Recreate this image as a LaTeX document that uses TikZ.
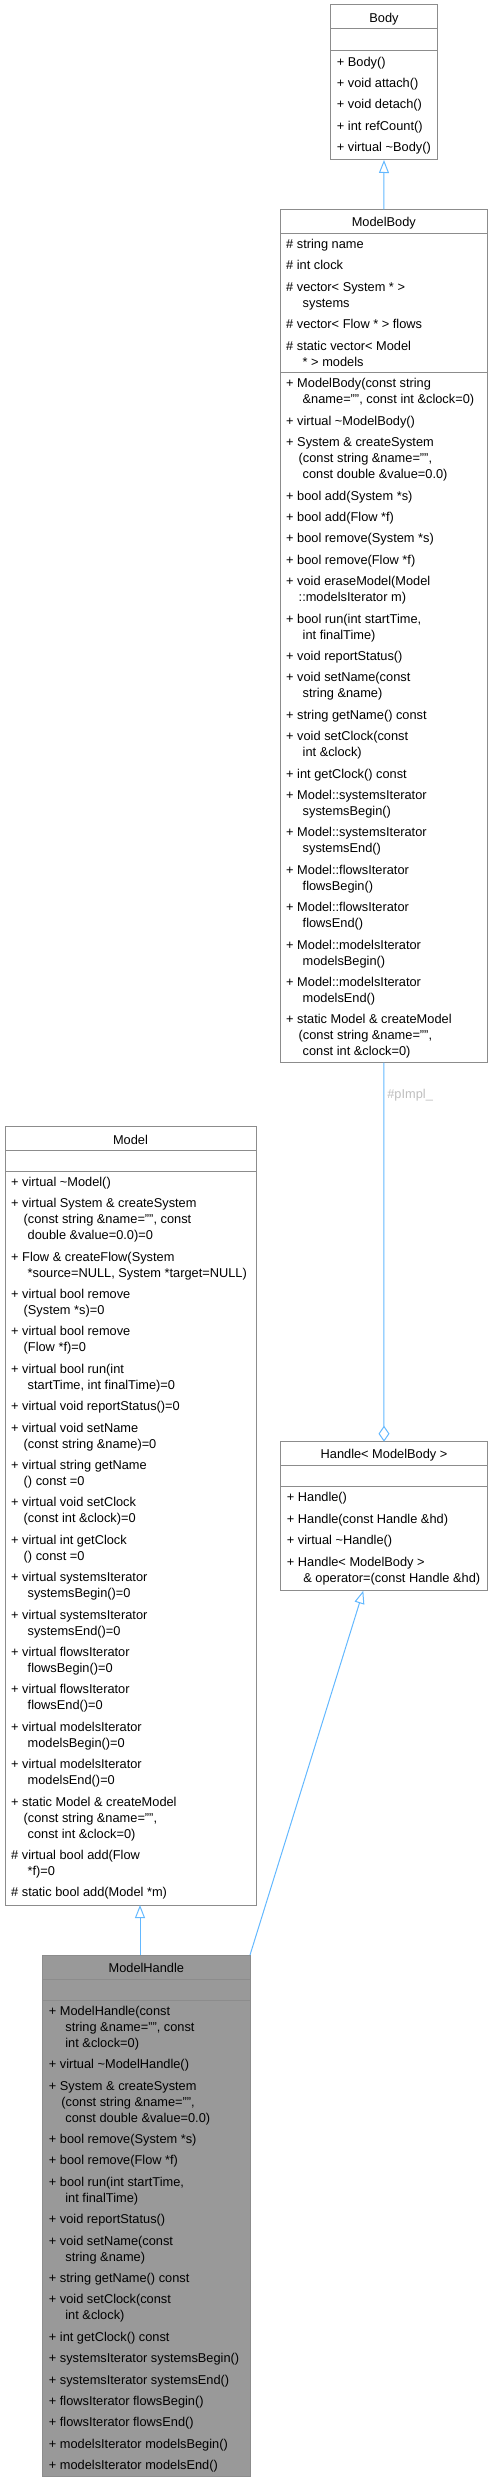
\documentclass[tikz,border=0pt]{standalone}
\usepackage{fontspec}
\setmainfont{Liberation Sans}
\usetikzlibrary{positioning,arrows.meta}
\definecolor{boxgray}{HTML}{8C8C8C}
\definecolor{edgeblue}{HTML}{63B8FF}
\definecolor{shade}{HTML}{999999}
\definecolor{lblgray}{HTML}{BEBEBE}
\newcommand{\wa}{\hspace*{12.5pt}}
\newcommand{\wb}{\hspace*{16.5pt}}
\newcommand{\nextm}{\\[5.4pt]}

\begin{document}
\begin{tikzpicture}[x=1pt, y=-1pt,
    font=\fontsize{12.8}{16}\selectfont,
    clspart/.style={draw=boxgray, fill=white, line width=1pt, inner sep=0pt, outer sep=0pt, minimum width=#1},
    clsname/.style={clspart=#1, minimum height=24pt, text height=11.2pt, text depth=0pt, anchor=north west},
    memtext/.style={anchor=north west, align=left, inner sep=0pt},
    isa/.style={draw=edgeblue, line width=1pt, -{Triangle[open, length=13pt, width=10pt]}},
    aggr/.style={draw=edgeblue, line width=1pt, -{Diamond[open, length=16pt, width=11pt]}},
    lbl/.style={text=lblgray, inner sep=3pt}]
\useasboundingbox (0,0) rectangle (493,2483);

% Body
\node[clsname=106.6pt] (bodyt) at (330.7,5) {Body};
\node[clspart=106.6pt, minimum height=22pt, below=0pt of bodyt] (bodya) {};
\node[clspart=106.6pt, minimum height=109pt, below=0pt of bodya] (bodym) {};
\node[memtext] (bodytxt) at ([xshift=6pt, yshift=-5.7pt]bodym.north west)
  {+ Body()\nextm
   + void attach()\nextm
   + void detach()\nextm
   + int refCount()\nextm
   + virtual \textasciitilde Body()};

% ModelBody
\node[clsname=207.7pt] (mbodyt) at (280,209.3) {ModelBody};
\node[clspart=207.7pt, minimum height=138.7pt, below=0pt of mbodyt] (mbodya) {};
\node[clspart=207.7pt, minimum height=690.7pt, below=0pt of mbodya] (mbodym) {};
\node[memtext] (mbodyatxt) at ([xshift=6pt, yshift=-5.7pt]mbodya.north west)
  {\# string name\nextm
   \# int clock\nextm
   \# vector< System * >\\\wb systems\nextm
   \# vector< Flow * > flows\nextm
   \# static vector< Model\\\wb * > models};
\node[memtext] (mbodytxt) at ([xshift=6pt, yshift=-6.5pt]mbodym.north west)
  {+ ModelBody(const string\\\wb \&name="", const int \&clock=0)\nextm
   + virtual \textasciitilde ModelBody()\nextm
   + System \& createSystem\\\wa (const string \&name="",\\\wb const double \&value=0.0)\nextm
   + bool add(System *s)\nextm
   + bool add(Flow *f)\nextm
   + bool remove(System *s)\nextm
   + bool remove(Flow *f)\nextm
   + void eraseModel(Model\\\wa ::modelsIterator m)\nextm
   + bool run(int startTime,\\\wb int finalTime)\nextm
   + void reportStatus()\nextm
   + void setName(const\\\wb string \&name)\nextm
   + string getName() const\nextm
   + void setClock(const\\\wb int \&clock)\nextm
   + int getClock() const\nextm
   + Model::systemsIterator\\\wb systemsBegin()\nextm
   + Model::systemsIterator\\\wb systemsEnd()\nextm
   + Model::flowsIterator\\\wb flowsBegin()\nextm
   + Model::flowsIterator\\\wb flowsEnd()\nextm
   + Model::modelsIterator\\\wb modelsBegin()\nextm
   + Model::modelsIterator\\\wb modelsEnd()\nextm
   + static Model \& createModel\\\wa (const string \&name="",\\\wb const int \&clock=0)};

% Model
\node[clsname=251pt] (modelt) at (5,1126.7) {Model};
\node[clspart=251pt, minimum height=21pt, below=0pt of modelt] (modela) {};
\node[clspart=251pt, minimum height=733.3pt, below=0pt of modela] (modelm) {};
\node[memtext] (modeltxt) at ([xshift=6pt, yshift=-5.2pt]modelm.north west)
  {+ virtual \textasciitilde Model()\nextm
   + virtual System \& createSystem\\\wa (const string \&name="", const\\\wb double \&value=0.0)=0\nextm
   + Flow \& createFlow(System\\\wb *source=NULL, System *target=NULL)\nextm
   + virtual bool remove\\\wa (System *s)=0\nextm
   + virtual bool remove\\\wa (Flow *f)=0\nextm
   + virtual bool run(int\\\wb startTime, int finalTime)=0\nextm
   + virtual void reportStatus()=0\nextm
   + virtual void setName\\\wa (const string \&name)=0\nextm
   + virtual string getName\\\wa () const =0\nextm
   + virtual void setClock\\\wa (const int \&clock)=0\nextm
   + virtual int getClock\\\wa () const =0\nextm
   + virtual systemsIterator\\\wb systemsBegin()=0\nextm
   + virtual systemsIterator\\\wb systemsEnd()=0\nextm
   + virtual flowsIterator\\\wb flowsBegin()=0\nextm
   + virtual flowsIterator\\\wb flowsEnd()=0\nextm
   + virtual modelsIterator\\\wb modelsBegin()=0\nextm
   + virtual modelsIterator\\\wb modelsEnd()=0\nextm
   + static Model \& createModel\\\wa (const string \&name="",\\\wb const int \&clock=0)\nextm
   \# virtual bool add(Flow\\\wb *f)=0\nextm
   \# static bool add(Model *m)};

% Handle< ModelBody >
\node[clsname=206.6pt, minimum height=23.3pt] (handlet) at (280.7,1441.7) {Handle< ModelBody >};
\node[clspart=206.6pt, minimum height=21.7pt, below=0pt of handlet] (handlea) {};
\node[clspart=206.6pt, minimum height=104pt, below=0pt of handlea] (handlem) {};
\node[memtext] (handletxt) at ([xshift=6pt, yshift=-5.7pt]handlem.north west)
  {+ Handle()\nextm
   + Handle(const Handle \&hd)\nextm
   + virtual \textasciitilde Handle()\nextm
   + Handle< ModelBody >\\\wb \& operator=(const Handle \&hd)};

% ModelHandle
\node[clsname=207.3pt, fill=shade] (mhandlet) at (42.7,1955) {ModelHandle};
\node[clspart=207.3pt, fill=shade, minimum height=21pt, below=0pt of mhandlet] (mhandlea) {};
\node[clspart=207.3pt, fill=shade, minimum height=476.7pt, below=0pt of mhandlea] (mhandlem) {};
\node[memtext] (mhandletxt) at ([xshift=6pt, yshift=-5.7pt]mhandlem.north west)
  {+ ModelHandle(const\\\wb string \&name="", const\\\wb int \&clock=0)\nextm
   + virtual \textasciitilde ModelHandle()\nextm
   + System \& createSystem\\\wa (const string \&name="",\\\wb const double \&value=0.0)\nextm
   + bool remove(System *s)\nextm
   + bool remove(Flow *f)\nextm
   + bool run(int startTime,\\\wb int finalTime)\nextm
   + void reportStatus()\nextm
   + void setName(const\\\wb string \&name)\nextm
   + string getName() const\nextm
   + void setClock(const\\\wb int \&clock)\nextm
   + int getClock() const\nextm
   + systemsIterator systemsBegin()\nextm
   + systemsIterator systemsEnd()\nextm
   + flowsIterator flowsBegin()\nextm
   + flowsIterator flowsEnd()\nextm
   + modelsIterator modelsBegin()\nextm
   + modelsIterator modelsEnd()};

% connectors
\draw[isa] (mbodyt.north) -- (bodym.south);
\draw[aggr] (mbodym.south) -- node[lbl, pos=0.087, anchor=west] (pimpl) {\#pImpl\_} (handlet.north);
\draw[isa] ([xshift=9.5pt]modelm.south |- mhandlet.north) -- ([xshift=9.5pt]modelm.south);
\draw[isa] (mhandlet.north east) -- ([xshift=-20.7pt]handlem.south);
\end{tikzpicture}
\end{document}
